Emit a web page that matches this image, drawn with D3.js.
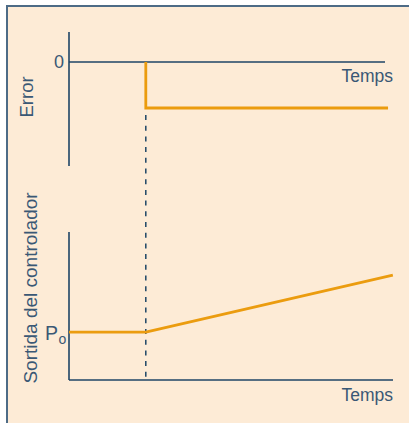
<!DOCTYPE html>
<html>
<head>
<meta charset="utf-8">
<script src="https://cdn.jsdelivr.net/npm/d3@7"></script>
<style>
html,body{margin:0;padding:0;background:#fff;}
svg{display:block;}
text{font-family:"Liberation Sans",Arial,sans-serif;}
</style>
</head>
<body>
<svg id="chart" width="409" height="423"></svg>
<script>
// ---- data ----
const stepTime = 2.4;                       // time of the step change
const errorTimes = [2.4, 2.4, 9.97];        // error signal
const errorValues = [0, -1, -1];
const outputTimes = [0, 2.4, 10.12];        // controller output
const outputValues = [0.324, 0.324, 0.709];
const p0Value = 0.324;
const errorTickValues = [0];
const errorTickLabels = ["0"];
const xAxisLabel = "Temps";
const errorAxisLabel = "Error";
const outputAxisLabel = "Sortida del controlador";

// ---- styles ----
const bg = "#fdebd6", border = "#4d6b86", axisCol = "#1e4566", textCol = "#3a5875", orange = "#eb9c0f";

const svg = d3.select("#chart");

// panel
svg.append("rect").attr("x", 7).attr("y", 6).attr("width", 409).attr("height", 430)
  .attr("fill", bg);
svg.append("path").attr("d", "M7,430V6H412").attr("fill", "none")
  .attr("stroke", border).attr("stroke-width", 2);

// scales
const x = d3.scaleLinear().domain([0, 10]).range([69, 389]);
const yErr = d3.scaleLinear().domain([-1, 0]).range([108, 62]);
const yOut = d3.scaleLinear().domain([0, 1]).range([380, 232]);

// ---- top chart: error ----
const gTop = svg.append("g");
gTop.append("line").attr("x1", x(0)).attr("x2", x(0))
  .attr("y1", yErr(0.652)).attr("y2", yErr(-2.26))
  .attr("stroke", axisCol).attr("stroke-width", 1.6);
gTop.append("line").attr("x1", x(0)).attr("x2", x(9.875))
  .attr("y1", yErr(0)).attr("y2", yErr(0))
  .attr("stroke", axisCol).attr("stroke-width", 1.4);

const yErrAxis = d3.axisLeft(yErr).tickValues(errorTickValues)
  .tickFormat((d, i) => errorTickLabels[i]).tickSize(0).tickPadding(5);
const ea = gTop.append("g").attr("transform", `translate(${x(0)},0)`).call(yErrAxis);
ea.select(".domain").remove();
ea.selectAll("text").attr("font-size", 18).attr("fill", textCol)
  .attr("font-family", "Liberation Sans, Arial, sans-serif");

const lineErr = d3.line().x(d => x(d[0])).y(d => yErr(d[1]));
gTop.append("path").datum(errorTimes.map((t, i) => [t, errorValues[i]]))
  .attr("d", lineErr).attr("fill", "none").attr("stroke", orange)
  .attr("stroke-width", 2.8).attr("stroke-linejoin", "miter");

gTop.append("text").attr("x", 393).attr("y", 81.5).attr("text-anchor", "end")
  .attr("font-size", 17.5).attr("fill", textCol).text(xAxisLabel);
gTop.append("text").attr("transform", `translate(32.5,${yErr(-0.76)}) rotate(-90)`)
  .attr("text-anchor", "middle").attr("font-size", 18.5).attr("fill", textCol).text(errorAxisLabel);

// dashed step marker
svg.append("line").attr("x1", x(stepTime)).attr("x2", x(stepTime))
  .attr("y1", yErr(-1) + 7).attr("y2", yOut(0) - 3)
  .attr("stroke", axisCol).attr("stroke-width", 1.5).attr("stroke-dasharray", "5,5.7");

// ---- bottom chart: controller output ----
const gBot = svg.append("g");
gBot.append("line").attr("x1", x(0)).attr("x2", x(0))
  .attr("y1", yOut(1)).attr("y2", yOut(0))
  .attr("stroke", axisCol).attr("stroke-width", 1.6);
gBot.append("line").attr("x1", x(0)).attr("x2", x(10.125))
  .attr("y1", yOut(0)).attr("y2", yOut(0))
  .attr("stroke", axisCol).attr("stroke-width", 1.6);

const lineOut = d3.line().x(d => x(d[0])).y(d => yOut(d[1]));
gBot.append("path").datum(outputTimes.map((t, i) => [t, outputValues[i]]))
  .attr("d", lineOut).attr("fill", "none").attr("stroke", orange)
  .attr("stroke-width", 2.8).attr("stroke-linejoin", "round");

const p0 = gBot.append("text").attr("x", 45).attr("y", yOut(p0Value) + 7.5)
  .attr("font-size", 19.5).attr("fill", textCol);
p0.append("tspan").text("P");
p0.append("tspan").attr("font-size", 14).attr("dy", 4).attr("dx", 0.5).text("o");

gBot.append("text").attr("x", 393).attr("y", 400.5).attr("text-anchor", "end")
  .attr("font-size", 17.5).attr("fill", textCol).text(xAxisLabel);
gBot.append("text").attr("transform", `translate(36.5,288) rotate(-90)`)
  .attr("text-anchor", "middle").attr("font-size", 19).attr("fill", textCol).text(outputAxisLabel);
</script>
</body>
</html>
